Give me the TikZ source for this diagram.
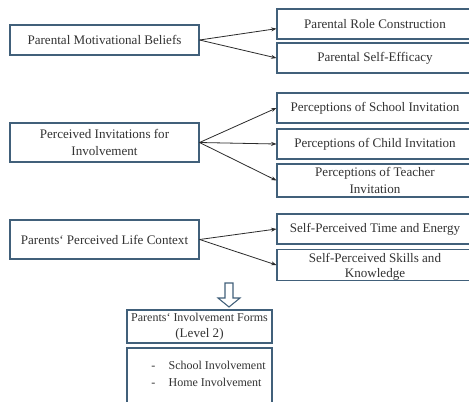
\documentclass[tikz,border=0pt]{standalone}
\usepackage{fontspec}
\setmainfont{Liberation Serif}
\usetikzlibrary{arrows.meta}
\definecolor{bordc}{HTML}{41607A}
\definecolor{txtc}{HTML}{333333}
\definecolor{arrc}{HTML}{2B2B2B}
\newcommand\bx[6]{\node[box, minimum width={(#4-#2)*0.75pt}, minimum height={(#5-#3)*0.75pt}] (#1) at ({(#2+#4)/2},{(#3+#5)/2}) {#6};}
\begin{document}
\begin{tikzpicture}[x=0.75pt,y=-0.75pt,
  box/.style={draw=bordc, line width=0.8pt, rectangle, inner sep=0pt, align=center, text=txtc,
    font=\fontsize{9.8}{12.2}\selectfont},
  conn/.style={draw=arrc, line width=0.6pt, -{Stealth[length=4pt,width=3pt]}}]
\useasboundingbox (0,0) rectangle (469,401);
\fill[white] (0,0) rectangle (469,401);
% left column
\bx{A}{10}{25}{199}{55}{Parental Motivational Beliefs}
\bx{B}{10}{123}{199}{162}{Perceived Invitations for\\Involvement}
\bx{C}{10}{220}{199}{259}{Parents‘ Perceived Life Context}
% right column
\bx{A1}{277}{9}{473}{39}{Parental Role Construction}
\bx{A2}{277}{43}{473}{73}{Parental Self-Efficacy}
\bx{B1}{277}{93}{473}{123}{Perceptions of School Invitation}
\bx{B2}{277}{129}{473}{159}{Perceptions of Child Invitation}
\bx{B3}{277}{164}{473}{197}{Perceptions of Teacher\\Invitation}
\bx{C1}{277}{214}{473}{244}{Self-Perceived Time and Energy}
\bx{C2}{277}{250}{473}{280}{\rule{0pt}{10pt}Self-Perceived Skills and\\[-1pt]Knowledge}
% bottom
\bx{D}{127}{310}{272}{343}{\fontsize{9}{12}\selectfont Parents‘ Involvement Forms\\(Level 2)}
\bx{E}{127}{348}{272}{410}{}
\node[anchor=north west, inner sep=0pt, align=left, text=txtc, font=\fontsize{9}{12.5}\selectfont] (Elist) at (151,361)
  {-\hspace{10pt}School Involvement\\-\hspace{10pt}Home Involvement};
% connectors
\draw[conn] (A.east) -- ([yshift=-3.5pt]A1.west);
\draw[conn] (A.east) -- (A2.west);
\draw[conn] (B.east) -- (B1.west);
\draw[conn] (B.east) -- (B2.west);
\draw[conn] (B.east) -- (B3.west);
\draw[conn] (C.east) -- (C1.west);
\draw[conn] (C.east) -- (C2.west);
% block arrow
\coordinate (tip) at (229,307);
\draw[bordc, line width=0.8pt, fill=white, line join=miter]
  (225,283) -- (233,283) -- (233,298) -- (240,298) -- (tip) -- (218,298) -- (225,298) -- cycle;
\end{tikzpicture}
\end{document}
